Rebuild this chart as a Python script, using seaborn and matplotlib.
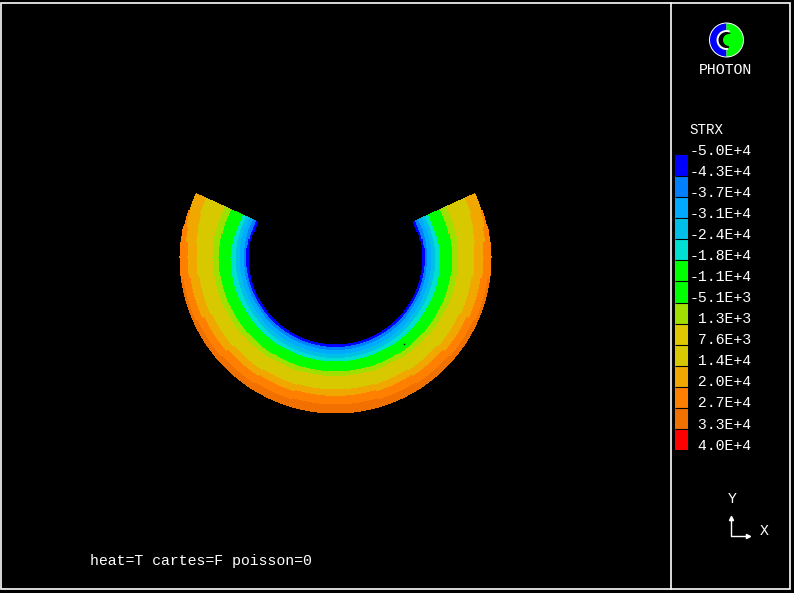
import numpy as np
import seaborn as sns
import matplotlib.pyplot as plt
from matplotlib.colors import ListedColormap
from matplotlib.patches import Rectangle, Circle, Wedge

level_labels = ["-5.0E+4", "-4.3E+4", "-3.7E+4", "-3.1E+4", "-2.4E+4", "-1.8E+4", "-1.1E+4", "-5.1E+3",
                " 1.3E+3", " 7.6E+3", " 1.4E+4", " 2.0E+4", " 2.7E+4", " 3.3E+4", " 4.0E+4"]
level_colors = ["#0000ff", "#0080ff", "#00aaff", "#00c0e8", "#00e0d0", "#00ff00", "#00ff00",
                "#a0e000", "#e0c800", "#d8c800", "#f0a800", "#ff8000", "#f07000", "#ff0000"]

# colour index of each ring, inside to outside
ring_colors = [0, 1, 2, 3, 4, 5, 7, 9, 10, 11, 12]

# degrees away from the bottom of the ring, one half only (the other is mirrored)
sector_angles = [111.0, 104.5, 98.5, 88.6, 73.5, 57.1, 40.7, 24.3, 8.2]
sector_widths = [7.0, 6.0, 6.0, 13.8, 16.4, 16.4, 16.4, 16.4, 16.4]
# ring edges read at each sector, inside to outside
sector_edges = [
    [85.5, 88.0, 91.5, 95.5, 99.0, 102.5, 115.5, 122.5, 143.0, 153.0, 153.0, 153.0],
    [86.5, 88.5, 92.0, 96.0, 99.5, 103.0, 116.0, 123.0, 141.5, 153.0, 154.0, 154.0],
    [87.5, 89.5, 92.0, 96.5, 100.0, 104.5, 117.0, 123.5, 140.5, 151.0, 155.0, 155.0],
    [87.5, 90.0, 92.0, 96.5, 100.5, 105.5, 117.5, 123.5, 139.5, 148.5, 155.5, 155.5],
    [87.5, 90.0, 92.5, 96.5, 100.5, 105.5, 117.0, 123.0, 138.0, 147.0, 154.0, 155.5],
    [87.5, 90.0, 92.5, 96.5, 100.5, 105.0, 116.5, 122.0, 136.5, 144.5, 152.0, 155.5],
    [87.5, 90.0, 93.0, 97.0, 101.0, 105.0, 116.0, 121.0, 135.0, 142.0, 150.5, 155.5],
    [87.5, 90.0, 93.0, 97.0, 101.0, 104.5, 115.0, 120.0, 133.5, 140.5, 149.0, 155.5],
    [87.5, 90.0, 93.0, 97.0, 101.0, 104.5, 114.5, 119.0, 132.5, 139.0, 147.5, 155.5],
]

W, H = 794, 593

sns.set_style("dark", {"axes.facecolor": "black", "figure.facecolor": "black", "text.color": "white",
                       "ytick.color": "white", "axes.grid": False})
plt.rcParams["font.family"] = ["Liberation Mono", "DejaVu Sans Mono"]
plt.rcParams["font.size"] = 10.7

fig = plt.figure(figsize=(W / 100, H / 100), dpi=100, facecolor="black")


def px_axes(left, top, width, height, **kw):
    return fig.add_axes([left / W, 1 - (top + height) / H, width / W, height / H], **kw)


# the stress rings
rlim = 170
ax = px_axes(335.5 - rlim, 257.5 - rlim, 2 * rlim, 2 * rlim, projection="polar")
ax.set_ylim(0, rlim)
ax.axis("off")
for angle, width, edges in zip(sector_angles, sector_widths, sector_edges):
    for side in (-1, 1):
        theta = np.deg2rad(270 + side * angle)
        for i, c in enumerate(ring_colors):
            ax.bar(theta, edges[i + 1] - edges[i], width=np.deg2rad(width + 0.2), bottom=edges[i],
                   color=level_colors[c], linewidth=0, antialiased=False)

# colour key, labels sit a bit above the box edges
ax_key = px_axes(675, 155, 13, 295)
cells = np.arange(len(level_colors)).reshape(-1, 1)
sns.heatmap(cells, ax=ax_key, cmap=ListedColormap(level_colors), cbar=False, xticklabels=False, yticklabels=False)
ax_key.hlines(np.arange(1, len(level_colors)), 0, 1, color="black", linewidth=0.8)
for i, label in enumerate(level_labels):
    ax_key.text(1.09, i - 0.21, label, ha="left", va="center", color="white", clip_on=False)

# frame, logo and labels in pixel coordinates
ov = px_axes(0, 0, W, H, facecolor="none")
ov.set_xlim(0, W)
ov.set_ylim(H, 0)
ov.axis("off")
ov.add_patch(Rectangle((1, 3), 788.5, 586, fill=False, edgecolor="white", linewidth=1.2))
ov.plot([671, 671], [3, 589], color="white", linewidth=1.2)

ov.add_patch(Circle((726.5, 40), 17.5, facecolor="white", edgecolor="none"))
ov.add_patch(Wedge((726.5, 40), 16.5, 90, 270, facecolor="#0000ff", edgecolor="none"))
ov.add_patch(Wedge((726.5, 40), 16.5, -90, 90, facecolor="#00ff00", edgecolor="none"))
ov.add_patch(Wedge((726.5, 40), 10, 80, 290, facecolor="white", edgecolor="none"))
ov.add_patch(Wedge((726.5, 40), 8, 70, 300, facecolor="black", edgecolor="none"))
ov.add_patch(Circle((729, 40), 6, facecolor="#00ff00", edgecolor="none"))

ov.text(725.5, 69.5, "PHOTON", ha="center", va="center")
ov.text(689, 130.5, "STRX", ha="left", va="center", fontsize=10.2)
ov.text(90, 560.5, "heat=T cartes=F poisson=0", ha="left", va="center")
ov.text(732.5, 499, "Y", ha="center", va="center")
ov.text(764.5, 531, "X", ha="center", va="center")

ov.plot([730.5, 730.5, 749], [517, 535.5, 535.5], color="white", linewidth=1)
ov.plot([730.5], [518], marker="^", color="white", markersize=3)
ov.plot([748], [535.5], marker=">", color="white", markersize=3)
ov.plot([404], [344], marker="s", color="black", markersize=1, markeredgewidth=0)

fig.savefig("out.png", dpi=100, facecolor="black")
